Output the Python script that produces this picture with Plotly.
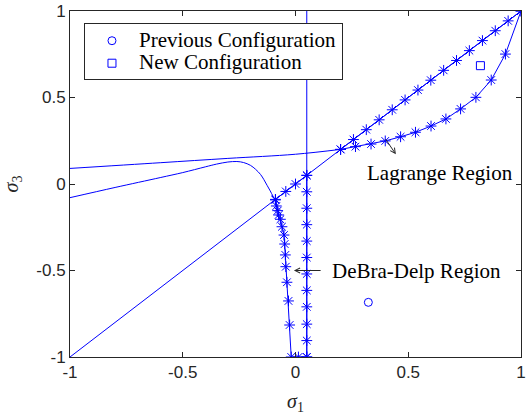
import plotly.graph_objects as go

BLUE = "#0000ff"
AX = "#262626"
SERIF = "Liberation Serif"
SANS = "Liberation Sans"

# Full reference lines
vert_x = [0.05, 0.05]
vert_y = [-1.0, 1.0]
diag_x = [-1.0, 1.0]
diag_y = [-1.0, 1.0]

# Near-horizontal curve continuing into lower Lagrange boundary
curveC_x = [-1.0, -0.6, -0.3, 0.0, 0.2]
curveC_y = [0.09, 0.123, 0.148, 0.172, 0.2]

# Lower Lagrange boundary (starred)
lagL_x = [0.2, 0.266, 0.335, 0.398, 0.466, 0.532, 0.601, 0.667, 0.732, 0.8, 0.868, 0.931, 1.0]
lagL_y = [0.2, 0.216, 0.231, 0.249, 0.273, 0.299, 0.335, 0.376, 0.434, 0.501, 0.601, 0.751, 1.0]

# Upper Lagrange boundary (starred, on diagonal)
lagU_x = [0.2, 0.257, 0.314, 0.371, 0.429, 0.486, 0.543, 0.6, 0.657, 0.714, 0.771, 0.829, 0.886, 0.943, 1.0]
lagU_y = [0.2, 0.257, 0.314, 0.371, 0.429, 0.486, 0.543, 0.6, 0.657, 0.714, 0.771, 0.829, 0.886, 0.943, 1.0]

# Stars on diagonal near origin
diagS_x = [-0.089, -0.043, 0.0, 0.05]
diagS_y = [-0.089, -0.043, 0.0, 0.05]

# Curve bending into DeBra-Delp boundary
curveD_x = [-1.0, -0.8, -0.6, -0.5, -0.4, -0.35, -0.3, -0.26, -0.23, -0.2, -0.177, -0.155, -0.14, -0.125, -0.112, -0.1, -0.089]
curveD_y = [-0.079, -0.02, 0.037, 0.066, 0.099, 0.115, 0.127, 0.13, 0.124, 0.108, 0.085, 0.055, 0.025, -0.01, -0.04, -0.07, -0.092]

# DeBra-Delp boundary (starred)
debra_x = [-0.089, -0.085, -0.079, -0.075, -0.067, -0.06, -0.051, -0.048, -0.045, -0.043, -0.038, -0.031, -0.026, -0.019, 0.013, 0.05]
debra_y = [-0.092, -0.127, -0.154, -0.179, -0.204, -0.247, -0.295, -0.347, -0.41, -0.478, -0.568, -0.676, -0.815, -1.0, -1.0, -1.0]

# Starred column at sigma1 = 0.05
col_x = [0.05] * 12
col_y = [0.05, -0.045, -0.14, -0.235, -0.33, -0.425, -0.52, -0.615, -0.71, -0.81, -0.905, -1.0]

prev_x = [0.323]
prev_y = [-0.684]
new_x = [0.82]
new_y = [0.684]

tick_vals = [-1, -0.5, 0, 0.5, 1]
tick_text = ["-1", "-0.5", "0", "0.5", "1"]

fig = go.Figure()

line_style = dict(color=BLUE, width=1)
star_style = dict(symbol="asterisk-open", size=9, color=BLUE, line=dict(color=BLUE, width=1))

fig.add_trace(go.Scatter(x=vert_x, y=vert_y, mode="lines", line=line_style, showlegend=False, hoverinfo="skip"))
fig.add_trace(go.Scatter(x=diag_x, y=diag_y, mode="lines", line=line_style, showlegend=False, hoverinfo="skip"))
fig.add_trace(go.Scatter(x=curveC_x, y=curveC_y, mode="lines", line=dict(color=BLUE, width=1, shape="spline"),
                         showlegend=False, hoverinfo="skip"))
fig.add_trace(go.Scatter(x=curveD_x, y=curveD_y, mode="lines", line=dict(color=BLUE, width=1, shape="spline"),
                         showlegend=False, hoverinfo="skip"))

for xs, ys in [(lagL_x, lagL_y), (lagU_x, lagU_y), (diagS_x, diagS_y), (debra_x, debra_y), (col_x, col_y)]:
    fig.add_trace(go.Scatter(x=xs, y=ys, mode="lines+markers", line=line_style, marker=star_style,
                             showlegend=False, hoverinfo="skip"))

fig.add_trace(go.Scatter(x=prev_x, y=prev_y, mode="markers",
                         name='<span style="font-size:21px">Previous Configuration</span>',
                         marker=dict(symbol="circle-open", size=8, color=BLUE, line=dict(color=BLUE, width=1))))
fig.add_trace(go.Scatter(x=new_x, y=new_y, mode="markers",
                         name='<span style="font-size:21px">New Configuration</span>',
                         marker=dict(symbol="square-open", size=8, color=BLUE, line=dict(color=BLUE, width=1))))

axis_common = dict(
    showgrid=False, zeroline=False, showline=True, linecolor=AX, linewidth=1,
    mirror="ticks", ticks="inside", ticklen=5, tickcolor=AX, tickwidth=1,
    tickvals=tick_vals, ticktext=tick_text, tickfont=dict(family=SANS, size=17, color=AX),
    ticklabeloverflow="allow", automargin=False,
)

fig.update_layout(
    width=526, height=416,
    margin=dict(l=70, r=5, t=11, b=59),
    paper_bgcolor="white", plot_bgcolor="white",
    xaxis=dict(range=[-1, 1], title=dict(text="<i>σ</i><sub>1</sub>", font=dict(family=SERIF, size=20, color=AX), standoff=12), **axis_common),
    yaxis=dict(range=[-1, 1], title=dict(text="<i>σ</i><sub>3</sub>", font=dict(family=SERIF, size=20, color=AX), standoff=12), **axis_common),
    legend=dict(x=0.031, y=0.964, xanchor="left", yanchor="top", bgcolor="white",
                bordercolor=AX, borderwidth=1, font=dict(family=SERIF, size=15, color="black"),
                tracegroupgap=0, itemwidth=44),
    annotations=[
        dict(x=0.445, y=0.172, ax=0.395, ay=0.268, xref="x", yref="y", axref="x", ayref="y",
             showarrow=True, arrowhead=5, arrowsize=1, arrowwidth=1, arrowcolor=AX, text=""),
        dict(x=0.307, y=0.064, xref="x", yref="y", text="Lagrange Region", showarrow=False,
             xanchor="left", yanchor="middle", font=dict(family=SERIF, size=21, color="black")),
        dict(x=-0.007, y=-0.5, ax=0.118, ay=-0.5, xref="x", yref="y", axref="x", ayref="y",
             showarrow=True, arrowhead=5, arrowsize=1, arrowwidth=1, arrowcolor=AX, text=""),
        dict(x=0.155, y=-0.5, xref="x", yref="y", text="DeBra-Delp Region", showarrow=False,
             xanchor="left", yanchor="middle", font=dict(family=SERIF, size=21, color="black")),
    ],
)

fig.write_html("out.html")
